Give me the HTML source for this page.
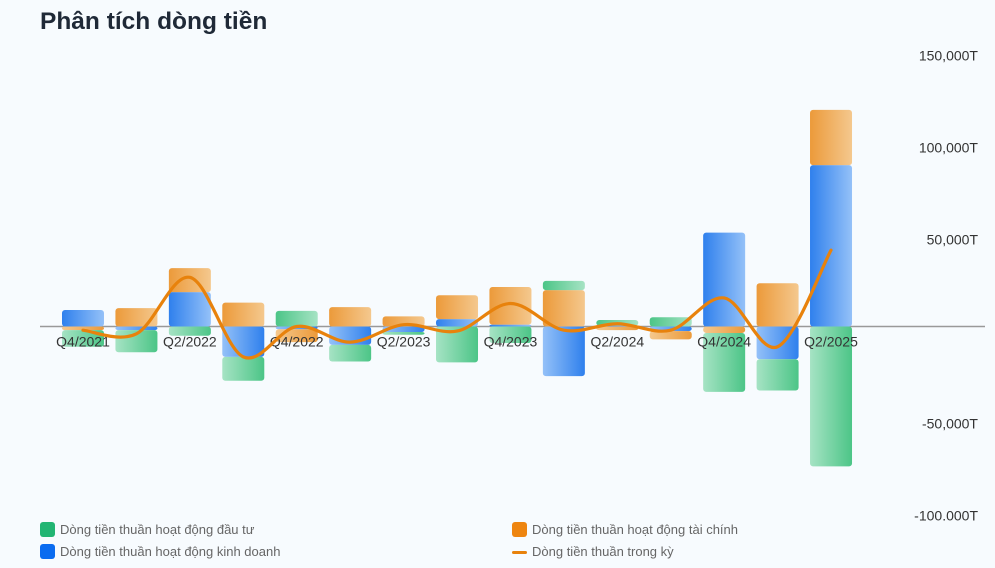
<!DOCTYPE html>
<html><head><meta charset="utf-8"><style>
html,body{margin:0;padding:0;background:#f7fbfe;}
body{width:995px;height:568px;overflow:hidden;position:relative;font-family:"Liberation Sans",sans-serif;}
#title{position:absolute;left:40px;top:8px;font-size:24.5px;font-weight:bold;color:#1f2937;margin:0;}
.leg{position:absolute;font-size:13px;color:#666;height:16px;line-height:16px;}
.sw{position:absolute;left:0;top:0;width:15px;height:15px;border-radius:3px;}
.leg span.t{position:absolute;left:20px;top:0;white-space:nowrap;}
</style></head><body>
<h1 id="title">Phân tích dòng tiền</h1>
<svg id="chart" width="995" height="568" style="position:absolute;left:0;top:0">
<defs>
<linearGradient id="gBp" x1="0" x2="1"><stop offset="0" stop-color="#2f80ed"/><stop offset="1" stop-color="#94c1f8"/></linearGradient>
<linearGradient id="gBn" x1="0" x2="1"><stop offset="0" stop-color="#94c1f8"/><stop offset="1" stop-color="#2f80ed"/></linearGradient>
<linearGradient id="gOp" x1="0" x2="1"><stop offset="0" stop-color="#ec9a3a"/><stop offset="1" stop-color="#f4c88e"/></linearGradient>
<linearGradient id="gOn" x1="0" x2="1"><stop offset="0" stop-color="#f4c88e"/><stop offset="1" stop-color="#ec9a3a"/></linearGradient>
<linearGradient id="gGp" x1="0" x2="1"><stop offset="0" stop-color="#4cc587"/><stop offset="1" stop-color="#a6e3c4"/></linearGradient>
<linearGradient id="gGn" x1="0" x2="1"><stop offset="0" stop-color="#a6e3c4"/><stop offset="1" stop-color="#4cc587"/></linearGradient>
</defs>
<g id="bars"></g><g id="xlabels"></g><g id="ylabels"></g><g id="lineg"></g>
</svg>
<div class="leg" style="left:40px;top:522px"><div class="sw" style="background:#22b573"></div><span class="t">Dòng tiền thuần hoạt động đầu tư</span></div>
<div class="leg" style="left:40px;top:544px"><div class="sw" style="background:#0b6cf0"></div><span class="t">Dòng tiền thuần hoạt động kinh doanh</span></div>
<div class="leg" style="left:512px;top:522px"><div class="sw" style="background:#ee8510"></div><span class="t">Dòng tiền thuần hoạt động tài chính</span></div>
<div class="leg" style="left:512px;top:544px"><div style="position:absolute;left:0;top:7px;width:15px;height:3px;background:#e8820c;border-radius:2px"></div><span class="t">Dòng tiền thuần trong kỳ</span></div>
<script>
const categories=["Q4/2021","Q1/2022","Q2/2022","Q3/2022","Q4/2022","Q1/2023","Q2/2023","Q3/2023","Q4/2023","Q1/2024","Q2/2024","Q3/2024","Q4/2024","Q1/2025","Q2/2025"];
const operating=[9,-2,18.7,-16.5,-1.5,-10,-3,4,1,-27,0.5,-2.5,51,-17.8,87.7];
const investing=[-9,-12,-5,-13,8.5,-9,-1.5,-19.5,-9,5,3,5,-32,-17,-76];
const financing=[-2,10,13,13,-7,10.5,5.5,13,20.5,19.8,-2,-4.5,-3.5,23.5,30];
const netFlow=[-2,-4,26.7,-16.5,0,-8.5,1,-2.5,12.5,-2,1.5,-2,15.5,-11,41.5];
const yTicks=[150,100,50,-50,-100];
const yTickLabels=["150,000T","100,000T","50,000T","-50,000T","-100.000T"];

const NS="http://www.w3.org/2000/svg";
const zeroY=326.5, pxPer=1.84, x0=83, step=53.43, bw=42;
const yS=v=>zeroY-v*pxPer;
const xS=i=>x0+i*step;
function mk(tag,attrs,parent){const e=document.createElementNS(NS,tag);for(const k in attrs)e.setAttribute(k,attrs[k]);parent.appendChild(e);return e;}
const bars=document.getElementById('bars');
mk('line',{x1:40,x2:985,y1:zeroY,y2:zeroY,stroke:'#999','stroke-width':1.5},bars);
categories.forEach((c,i)=>{
  let pos=0,neg=0;
  const order=[[operating,'B','operating'],[financing,'O','financing'],[investing,'G','investing']];
  order.forEach(([arr,k,nm])=>{
    const v=arr[i];
    let y1,y2,g;
    if(v>=0){y1=yS(pos+v);y2=yS(pos);pos+=v;g='p';}
    else{y1=yS(neg);y2=yS(neg+v);neg+=v;g='n';}
    const r=mk('rect',{x:xS(i)-bw/2,y:y1,width:bw,height:Math.max(0,y2-y1),fill:'url(#g'+k+g+')',rx:3},bars);
    
    
  });
});
const xl=document.getElementById('xlabels');
categories.forEach((c,i)=>{
  if(i%2)return;
  const t=mk('text',{x:xS(i),y:zeroY+20,'text-anchor':'middle','font-size':14,fill:'#333','font-family':'Liberation Sans, sans-serif'},xl);
  t.textContent=c;
  
  
});
const yl=document.getElementById('ylabels');
yTicks.forEach((v,i)=>{
  const t=mk('text',{x:978,y:yS(v)+10,'text-anchor':'end','font-size':14,fill:'#333','font-family':'Liberation Sans, sans-serif'},yl);
  t.textContent=yTickLabels[i];
  
  
});
const pts=netFlow.map((v,i)=>[xS(i),yS(v)]);
let d='M'+pts[0][0]+','+pts[0][1];
for(let i=0;i<pts.length-1;i++){
  const p0=pts[Math.max(0,i-1)],p1=pts[i],p2=pts[i+1],p3=pts[Math.min(pts.length-1,i+2)];
  const t=1/6;
  d+=' C'+(p1[0]+(p2[0]-p0[0])*t)+','+(p1[1]+(p2[1]-p0[1])*t)+' '+(p2[0]-(p3[0]-p1[0])*t)+','+(p2[1]-(p3[1]-p1[1])*t)+' '+p2[0]+','+p2[1];
}
const ln=mk('path',{d:d,fill:'none',stroke:'#e8820c','stroke-width':3.2,'stroke-linecap':'round'},document.getElementById('lineg'));


</script>
</body></html>
